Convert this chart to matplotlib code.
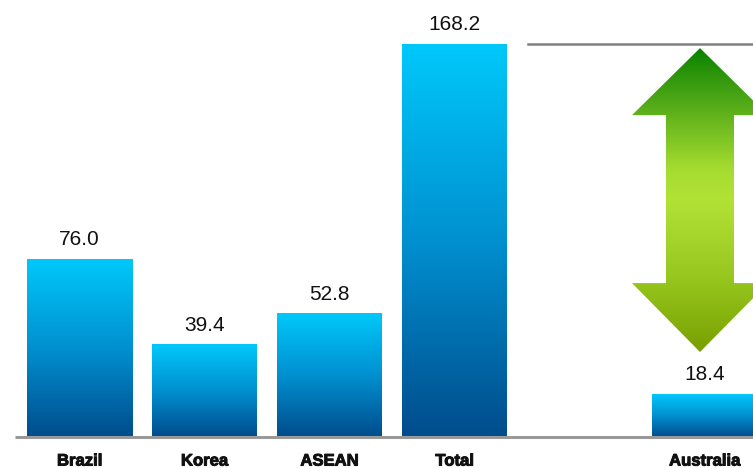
import numpy as np
import matplotlib
matplotlib.use("Agg")
import matplotlib.pyplot as plt
import matplotlib.patheffects as pe
from matplotlib.colors import LinearSegmentedColormap
from matplotlib.patches import Polygon

categories = ["Brazil", "Korea", "ASEAN", "Total", "Australia"]
positions = [0, 1, 2, 3, 5]
values = [76.0, 39.4, 52.8, 168.2, 18.4]
value_labels = ["76.0", "39.4", "52.8", "168.2", "18.4"]

W, H = 753, 468
fig = plt.figure(figsize=(W / 100, H / 100), dpi=100)
ax = fig.add_axes([0, 31 / H, 1, 1 - 31 / H])
ax.set_xlim(-0.636, 5.388)
ax.set_ylim(0, 187.1)
ax.axis("off")

bar_cmap = LinearSegmentedColormap.from_list("bar", ["#004c8c", "#0090d0", "#00c8fa"])
bar_w = 0.84
grad = np.linspace(0, 1, 256).reshape(-1, 1)
for x, v, lab in zip(positions, values, value_labels):
    ax.imshow(grad, cmap=bar_cmap, origin="lower", aspect="auto",
              extent=(x - bar_w / 2, x + bar_w / 2, 0, v), zorder=2,
              interpolation="bicubic")
    ax.text(x, v + 6.0, lab, ha="center", va="baseline", fontsize=15,
            family="Liberation Sans", color="#111111")

# baseline
ax.plot([-0.516, 5.5], [0, 0], color="#999999", lw=2.2, zorder=3,
        solid_capstyle="butt", clip_on=False)

# category labels
for x, c in zip(positions, categories):
    ax.text(x, -10.3, c, ha="center", va="center", fontsize=12,
            family="Liberation Sans", fontweight="bold", color="#111111",
            clip_on=False,
            path_effects=[pe.withStroke(linewidth=0.7, foreground="#111111")])

# reference line at the total level
total = values[3]
ax.plot([3.588, 5.5], [total, total], color="#808080", lw=1.8, zorder=3)

# double-headed arrow spanning the gap
cx = 4.964
sw, hw = 0.272, 0.544
top_tip, top_base = 166.5, 137.8
bot_base, bot_tip = 65.9, 36.4
verts = [
    (cx, top_tip), (cx + hw, top_base), (cx + sw, top_base),
    (cx + sw, bot_base), (cx + hw, bot_base), (cx, bot_tip),
    (cx - hw, bot_base), (cx - sw, bot_base), (cx - sw, top_base),
    (cx - hw, top_base),
]
arrow = Polygon(verts, closed=True, facecolor="none", edgecolor="none")
ax.add_patch(arrow)
arrow_cmap = LinearSegmentedColormap.from_list(
    "arrow", [(0.0, "#78a000"), (0.25, "#98c820"), (0.5, "#b2e236"),
              (0.6, "#a6dc30"), (0.8, "#5aae1a"), (1.0, "#0a8200")])
img = ax.imshow(grad, cmap=arrow_cmap, origin="lower", aspect="auto",
                extent=(cx - hw, cx + hw, bot_tip, top_tip), zorder=2,
                interpolation="bicubic")
img.set_clip_path(arrow)

fig.savefig("out.png", dpi=100)
